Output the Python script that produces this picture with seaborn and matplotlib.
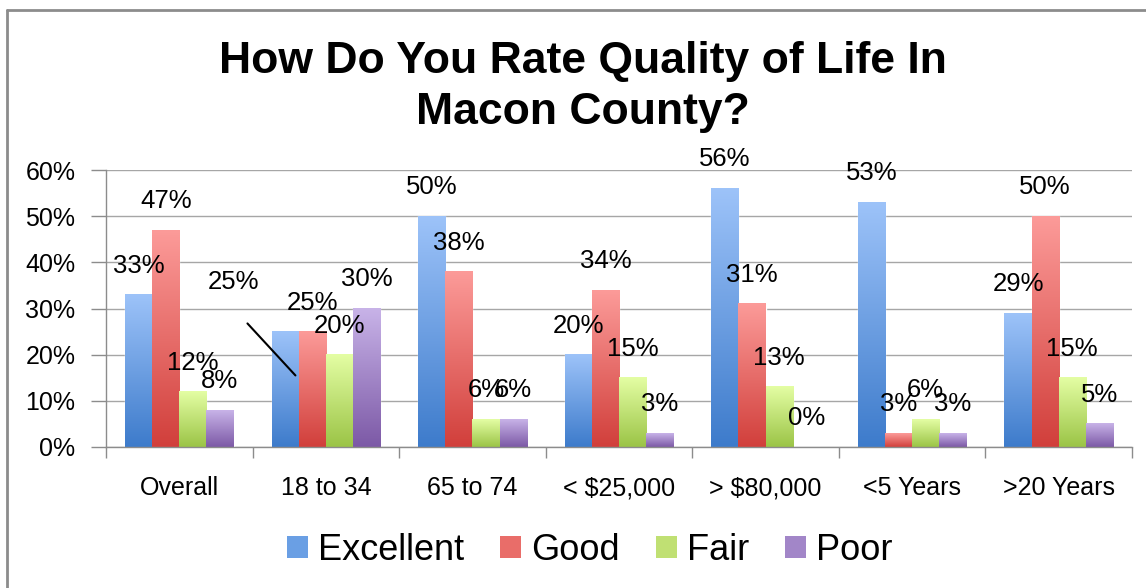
import numpy as np
import pandas as pd
import matplotlib
matplotlib.use('Agg')
import matplotlib.pyplot as plt
import seaborn as sns
from matplotlib.colors import LinearSegmentedColormap
from matplotlib.patches import Patch
from matplotlib.lines import Line2D
from matplotlib.ticker import PercentFormatter, FixedLocator

groups = ['Overall', '18 to 34', '65 to 74', '< $25,000', '> $80,000', '<5 Years', '>20 Years']
ratings = ['Excellent', 'Good', 'Fair', 'Poor']
excellent = [33, 25, 50, 20, 56, 53, 29]
good = [47, 25, 38, 34, 31, 3, 50]
fair = [12, 20, 6, 15, 13, 6, 15]
poor = [8, 30, 6, 3, 0, 3, 5]

# light (top) / dark (bottom) for the excel-style gradient
tops = ['#9dc3f9', '#fc9b99', '#e4fea4', '#c8b3e8']
bottoms = ['#3d7bcb', '#d13f3b', '#9bc446', '#7c59a6']
mids = ['#6a9fe4', '#e96d69', '#c0e073', '#a286c8']

rows = []
for r, vals in zip(ratings, [excellent, good, fair, poor]):
    for g, v in zip(groups, vals):
        rows.append({'group': g, 'rating': r, 'pct': v / 100})
df = pd.DataFrame(rows)

sns.set_style('white')
plt.rcParams['font.family'] = ['Liberation Sans', 'DejaVu Sans']
plt.rcParams['text.color'] = 'black'
plt.rcParams['xtick.color'] = 'black'
plt.rcParams['ytick.color'] = 'black'

fig = plt.figure(figsize=(11.46, 5.88), dpi=100)
W, H = 1146, 588
ax = fig.add_axes([106 / W, 1 - 447 / H, (1132 - 106) / W, (447 - 170) / H])

sns.barplot(data=df, x='group', y='pct', hue='rating', order=groups, hue_order=ratings,
            palette=mids, saturation=1, width=0.74, ax=ax, legend=False, zorder=2)

# gradient fill on every bar
for i, cont in enumerate(ax.containers):
    cmap = LinearSegmentedColormap.from_list('g%d' % i, [bottoms[i], tops[i]])
    grad = np.linspace(0, 1, 256).reshape(-1, 1)
    for rect in cont:
        h = rect.get_height()
        if h <= 0:
            continue
        x0, w = rect.get_x(), rect.get_width()
        ax.imshow(grad, extent=[x0, x0 + w, 0, h], origin='lower', aspect='auto',
                  cmap=cmap, zorder=2.1, interpolation='bilinear')

# data labels
for i, cont in enumerate(ax.containers):
    for j, rect in enumerate(cont):
        h = rect.get_height()
        xc = rect.get_x() + rect.get_width() / 2
        label = '%d%%' % round(h * 100)
        if i == 0 and j == 1:
            ax.annotate(label, (xc, h), xytext=(-52, 50), textcoords='offset pixels',
                        ha='center', va='center', fontsize=18.5, zorder=4)
            ax.annotate('', (xc + 0.07, h * 0.62), xytext=(-48, 52), textcoords='offset pixels',
                        arrowprops=dict(arrowstyle='-', color='black', lw=1.5,
                                        shrinkA=0, shrinkB=0), zorder=4)
        else:
            ax.annotate(label, (xc, h), xytext=(0, 29), textcoords='offset pixels',
                        ha='center', va='center', fontsize=18.5, zorder=4)

ax.set_xlim(-0.5, len(groups) - 0.5)
ax.set_ylim(0, 0.6)
ax.set_yticks(np.arange(0, 0.61, 0.1))
ax.yaxis.set_major_formatter(PercentFormatter(1, decimals=0))
ax.yaxis.grid(True, color='#a6a6a6', lw=1)
ax.set_axisbelow(True)
ax.set_xlabel('')
ax.set_ylabel('')

for s in ['top', 'right']:
    ax.spines[s].set_visible(False)
for s in ['left', 'bottom']:
    ax.spines[s].set_color('#8c8c8c')
    ax.spines[s].set_linewidth(1)

ax.tick_params(axis='y', direction='out', length=11, color='#8c8c8c', width=1,
               pad=11, labelsize=18, left=True, labelcolor='black')
ax.tick_params(axis='x', which='major', length=0, pad=21, labelsize=18, labelcolor='black')
ax.xaxis.set_minor_locator(FixedLocator(np.arange(-0.5, len(groups), 1.0)))
ax.tick_params(axis='x', which='minor', direction='out', length=8, color='#8c8c8c',
               width=1, bottom=True)

# title
fig.text(583 / W, 1 - 73 / H, 'How Do You Rate Quality of Life In', ha='center',
         va='baseline', fontsize=32, fontweight='bold')
fig.text(583 / W, 1 - 124 / H, 'Macon County?', ha='center', va='baseline',
         fontsize=32, fontweight='bold')

# legend
handles = [Patch(facecolor=c, edgecolor='none') for c in mids]
fig.legend(handles, ratings, loc='center', bbox_to_anchor=(590 / W, 1 - 550 / H),
           ncol=4, frameon=False, fontsize=26, handlelength=0.58, handleheight=0.58,
           handletextpad=0.28, columnspacing=1.0)

# chart frame (left and top edges visible)
fig.add_artist(Line2D([7 / W, 7 / W], [0, 1 - 10 / H], color='#8c8c8c', lw=2,
                      transform=fig.transFigure))
fig.add_artist(Line2D([7 / W, 1], [1 - 10 / H, 1 - 10 / H], color='#8c8c8c', lw=2,
                      transform=fig.transFigure))

fig.savefig('out.png', dpi=100, facecolor='white')
